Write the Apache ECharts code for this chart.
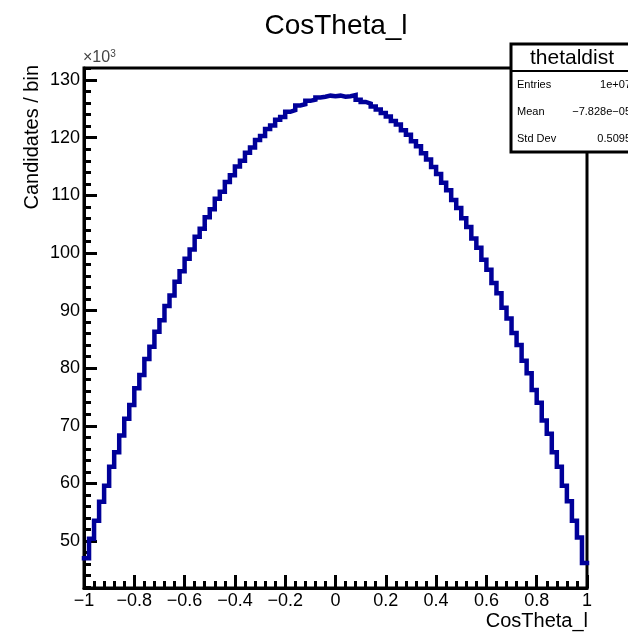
<!DOCTYPE html>
<html>
<head>
<meta charset="utf-8">
<script src="https://cdn.jsdelivr.net/npm/echarts@6/dist/echarts.min.js"></script>
<style>html,body{margin:0;padding:0;background:#fff;}#c{width:628px;height:632px;}</style>
</head>
<body>
<div id="c"></div>
<script>
// Histogram definition (x10^3 candidates per bin)
const xMin = -1, xMax = 1, nBins = 100;
const binValues = [
  47.0, 50.4, 53.5, 56.8, 59.6, 62.9, 65.4, 68.3, 71.2, 73.6,
  76.5, 78.8, 81.6, 83.7, 86.3, 88.3, 90.8, 92.6, 95.0, 96.8,
  99.0, 100.6, 102.8, 104.2, 106.2, 107.6, 109.4, 110.6, 112.3, 113.5,
  115.0, 116.0, 117.4, 118.3, 119.6, 120.3, 121.5, 122.1, 123.1, 123.6,
  124.5, 124.8, 125.6, 125.8, 126.4, 126.6, 127.0, 127.1, 127.3, 127.2,
  127.3, 127.1, 127.2, 127.4, 126.6, 126.2, 125.9, 125.4, 124.9, 124.3,
  123.7, 122.9, 122.3, 121.3, 120.5, 119.4, 118.5, 117.3, 116.2, 114.9,
  113.7, 112.2, 110.9, 109.2, 107.8, 106.0, 104.5, 102.5, 100.9, 98.8,
  97.1, 94.8, 93.0, 90.5, 88.6, 86.1, 84.0, 81.3, 79.1, 76.2,
  74.0, 70.9, 68.6, 65.4, 62.9, 59.6, 56.9, 53.5, 50.6, 46.2
];
const yMin = 41.84, yMax = 132.1;
const yMajorTicks = [50, 60, 70, 80, 90, 100, 110, 120, 130];
const yMinorTicks = [42, 44, 46, 48, 52, 54, 56, 58, 62, 64, 66, 68, 72, 74, 76, 78, 82, 84, 86, 88,
  92, 94, 96, 98, 102, 104, 106, 108, 112, 114, 116, 118, 122, 124, 126, 128, 132];
const statsName = 'thetaldist';
const statsLabels = ['Entries', 'Mean', 'Std Dev'];
const statsValues = ['1e+07', '\u22127.828e\u221205', '0.5095'];

// build step outline: point at left edge of first bin, then right edge of every bin
const binW = (xMax - xMin) / nBins;
const stepData = [[xMin, binValues[0]]];
binValues.forEach((v, i) => stepData.push([xMin + (i + 1) * binW, v]));

const FONT = 'Liberation Sans, Arial, Helvetica, sans-serif';
const chart = echarts.init(document.getElementById('c'), null, {renderer: 'canvas'});
const fmtNum = v => {
  let s = (Math.round(v * 10) / 10).toString();
  return s.replace('-', '\u2212');
};
const statsGraphics = [
  {type: 'rect', z: 100, shape: {x: 511, y: 44, width: 140, height: 108},
   style: {fill: '#fff', stroke: '#000', lineWidth: 3}},
  {type: 'line', z: 101, shape: {x1: 511, y1: 71, x2: 640, y2: 71}, style: {stroke: '#000', lineWidth: 2}},
  {type: 'text', z: 102, x: 572, y: 58, style: {text: statsName, font: '21px ' + FONT, fill: '#000', align: 'center', verticalAlign: 'middle'}}
];
const rowsY = [85, 112, 139];
statsLabels.forEach((l, i) => {
  statsGraphics.push({type: 'text', z: 102, x: 517, y: rowsY[i], style: {text: l, font: '11px ' + FONT, fill: '#000', align: 'left', verticalAlign: 'middle'}});
  statsGraphics.push({type: 'text', z: 102, x: 631, y: rowsY[i], style: {text: statsValues[i], font: '11px ' + FONT, fill: '#000', align: 'right', verticalAlign: 'middle'}});
});

chart.setOption({
  animation: false,
  backgroundColor: '#fff',
  grid: {left: 84, right: 41, top: 68, bottom: 44, show: true, borderColor: '#000', borderWidth: 3, backgroundColor: 'transparent', containLabel: false},
  xAxis: {
    type: 'value', min: xMin, max: xMax, interval: 0.2,
    axisLine: {show: true, onZero: false, lineStyle: {color: '#000', width: 3}},
    axisTick: {show: true, inside: true, length: 13, lineStyle: {color: '#000', width: 3}},
    minorTick: {show: true, splitNumber: 5, length: 7, lineStyle: {color: '#000', width: 3}},
    splitLine: {show: false},
    axisLabel: {color: '#000', fontFamily: FONT, fontSize: 18, margin: 4, formatter: fmtNum}
  },
  yAxis: [{
    type: 'value', min: yMin, max: yMax, position: 'left',
    axisLine: {show: true, onZero: false, lineStyle: {color: '#000', width: 3}},
    axisTick: {show: true, inside: true, length: 13, customValues: yMajorTicks, lineStyle: {color: '#000', width: 3}},
    splitLine: {show: false},
    axisLabel: {color: '#000', fontFamily: FONT, fontSize: 18, margin: 4, customValues: yMajorTicks, formatter: v => String(v)}
  }, {
    type: 'value', min: yMin, max: yMax, position: 'left', offset: 0,
    axisLine: {show: false, onZero: false},
    axisTick: {show: true, inside: true, length: 7, customValues: yMinorTicks, lineStyle: {color: '#000', width: 3}},
    splitLine: {show: false},
    axisLabel: {show: false}
  }],
  series: [{
    type: 'line', step: 'start', data: stepData, yAxisIndex: 0,
    showSymbol: false, symbol: 'none', clip: true,
    lineStyle: {color: '#000099', width: 4.5, join: 'miter', cap: 'square'}
  }],
  graphic: [
    {type: 'text', x: 336, y: 26, style: {text: 'CosTheta_l', font: '28px ' + FONT, fill: '#000', align: 'center', verticalAlign: 'middle'}},
    {type: 'text', x: 32, y: 65, rotation: Math.PI / 2, style: {text: 'Candidates / bin', font: '20px ' + FONT, fill: '#000', align: 'right', verticalAlign: 'middle'}},
    {type: 'text', x: 588, y: 621, style: {text: 'CosTheta_l', font: '20px ' + FONT, fill: '#000', align: 'right', verticalAlign: 'middle'}},
    {type: 'text', x: 83, y: 58, style: {text: '\u00d710{s|3}', rich: {s: {fontSize: 10, verticalAlign: 'top', padding: [0, 0, 8, 0], fill: '#444', fontFamily: FONT}}, font: '16px ' + FONT, fill: '#444', align: 'left', verticalAlign: 'middle'}},
    ...statsGraphics
  ]
});
</script>
</body>
</html>
